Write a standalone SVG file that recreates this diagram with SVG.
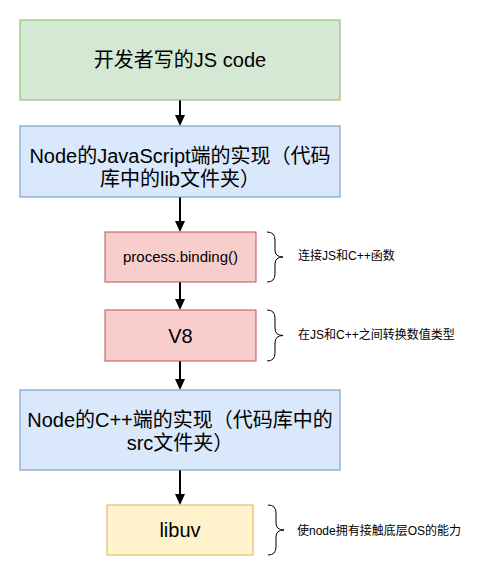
<svg xmlns="http://www.w3.org/2000/svg" width="496" height="576" viewBox="0 0 496 576">
<style>
text{font-family:"Liberation Sans","Noto Sans CJK SC",sans-serif;fill:#000;text-anchor:middle}
.big{font-size:20px}
.mid{font-size:15px}
.note{font-size:12px;text-anchor:start}
.green{fill:#d5e8d4;stroke:#82b366;stroke-width:1}
.blue{fill:#dae8fc;stroke:#6c8ebf;stroke-width:1}
.red{fill:#f8cecc;stroke:#b85450;stroke-width:1}
.yellow{fill:#fff2cc;stroke:#d6b656;stroke-width:1}
.edge{stroke:#000;stroke-width:2;fill:none;marker-end:url(#arr)}
.brace{stroke:#000;stroke-width:1;fill:none}
</style>
<defs>
<marker id="arr" markerUnits="userSpaceOnUse" markerWidth="12" markerHeight="12" viewBox="0 0 12 12" refX="1" refY="6" orient="auto">
<path d="M0,1 L11,6 L0,11 Z" fill="#000"/>
</marker>
</defs>
<rect width="496" height="576" fill="#fff"/>
<g id="connectors">
<line class="edge" x1="180" y1="100" x2="180" y2="116"/>
<line class="edge" x1="180" y1="197" x2="180" y2="222"/>
<line class="edge" x1="180" y1="282" x2="180" y2="300"/>
<line class="edge" x1="180" y1="361" x2="180" y2="380"/>
<line class="edge" x1="180" y1="470" x2="180" y2="495"/>
</g>
<g id="n1">
<rect class="green" x="20" y="20" width="320" height="80"/>
<text class="big" x="180" y="67">开发者写的JS code</text>
</g>
<g id="n2">
<rect class="blue" x="20" y="126" width="320" height="71"/>
<text class="big" x="180" y="163">Node的JavaScript端的实现（代码</text>
<text class="big" x="180" y="186">库中的lib文件夹）</text>
</g>
<g id="n3">
<rect class="red" x="105" y="232" width="151" height="50"/>
<text class="mid" x="180.5" y="262">process.binding()</text>
</g>
<g id="n4">
<rect class="red" x="105" y="310" width="151" height="51"/>
<text class="big" x="180.5" y="343">V8</text>
</g>
<g id="n5">
<rect class="blue" x="20" y="390" width="320" height="80"/>
<text class="big" x="180" y="427">Node的C++端的实现（代码库中的</text>
<text class="big" x="180" y="450">src文件夹）</text>
</g>
<g id="n6">
<rect class="yellow" x="107" y="505" width="146" height="50"/>
<text class="big" x="180" y="537">libuv</text>
</g>
<g id="note1">
<path class="brace" d="M267,232 Q275,232 275,240 L275,250 Q275,257 283,257 Q275,257 275,264 L275,274 Q275,282 267,282"/>
<text class="note" x="298" y="260">连接JS和C++函数</text>
</g>
<g id="note2">
<path class="brace" d="M267,310 Q275,310 275,318 L275,328 Q275,335.5 283,335.5 Q275,335.5 275,343 L275,353 Q275,361 267,361"/>
<text class="note" x="298" y="339">在JS和C++之间转换数值类型</text>
</g>
<g id="note3">
<path class="brace" d="M268,505 Q276,505 276,513 L276,523 Q276,530 284,530 Q276,530 276,537 L276,547 Q276,555 268,555"/>
<text class="note" x="297" y="535">使node拥有接触底层OS的能力</text>
</g>
</svg>
